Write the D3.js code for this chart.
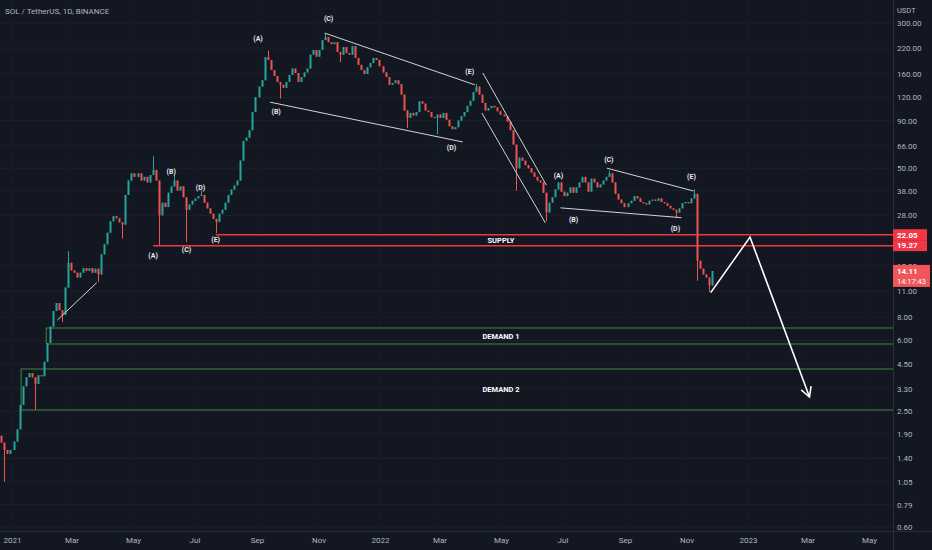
<!DOCTYPE html>
<html>
<head>
<meta charset="utf-8">
<script src="https://cdn.jsdelivr.net/npm/d3@7"></script>
<style>
  body { margin: 0; background: #131722; }
  svg { display: block; font-family: Roboto, 'DejaVu Sans', sans-serif; }
</style>
</head>
<body>
<svg id="chart" width="932" height="550"></svg>
<script>
// SOL / TetherUS, candles every 3 days
const startDate = '2020-12-20';
const periodDays = 3;
const firstOpen = 1.85;

const closes = [
  1.70, 1.55, 1.48, 1.55, 1.72, 2.0, 2.7, 3.4, 3.8, 4.0,
  3.8, 3.5, 3.9, 3.85, 4.6, 5.8, 7.1, 8.6, 9.5, 8.7,
  8.2, 11.5, 15.6, 14.2, 13.8, 13.0, 13.8, 14.6, 14.1, 14.6,
  13.8, 14.5, 13.5, 17.3, 19.6, 22.6, 26, 27.7, 27, 25.7,
  25, 36, 43, 47, 45, 47, 43, 45, 42, 46,
  49, 43, 28, 32.7, 31, 37, 40, 43, 38, 40,
  35, 30, 32, 33.5, 34.5, 35.5, 36, 32.7, 30.5, 28.6,
  26.8, 25.8, 28.6, 30, 32.7, 36, 38.5, 40.5, 43, 55,
  70, 73, 80, 100, 120, 137, 148, 197, 190, 168,
  156, 145, 140, 135, 145, 158, 171, 162, 145, 154,
  163, 171, 203, 215, 198, 215, 243, 252, 237, 231,
  237, 210, 203, 223, 207, 203, 226, 195, 179, 168,
  160, 174, 183, 195, 190, 176, 163, 154, 140, 143,
  148, 141, 124, 102, 93, 99, 96, 100, 114, 111,
  102, 100, 94, 93, 97, 93, 99, 91, 84, 81,
  83, 90, 95, 100, 108, 115, 128, 137, 124, 112,
  102, 105, 108, 106, 101, 97, 95, 89, 80, 67,
  50, 57, 55, 52, 50, 47.5, 45, 43, 42, 37,
  29, 32.7, 35, 38.5, 42, 37.5, 35.5, 37, 39.5, 37,
  39.5, 42, 45, 42, 37.5, 44, 42, 39.5, 41, 43,
  45, 47, 42, 36.5, 34, 32.5, 31, 32.5, 33.5, 35.5,
  34.5, 33, 32.5, 32, 33.5, 34, 33.5, 34.5, 33, 32.5,
  31.5, 30.5, 30, 29, 30.5, 32.5, 33, 32.5, 34.5, 36.5,
  16, 14.5, 13.5, 13, 11.8, 14.1
];

// [candle index, high, low] for the long wicks
const wicks = [
  [1, null, 1.05], [11, null, 2.55], [20, null, 7.5], [22, 18, null],
  [32, null, 12.3], [40, null, 21], [50, 58, null], [52, null, 19.4],
  [57, 46, null], [61, null, 20.2], [66, 38, null], [71, null, 22.5],
  [88, 214, null], [92, null, 118], [107, 262, null], [112, null, 185],
  [134, null, 82], [144, null, 76], [157, 142, null], [170, null, 38],
  [180, null, 26], [201, 48.5, null], [223, null, 27.2], [229, 38.5, null],
  [230, null, 12.5], [234, null, 10.9]
];

const priceTicks = [300, 220, 160, 120, 90, 66, 50, 38, 28, 15, 11, 8, 6, 4.5, 3.3, 2.5, 1.9, 1.4, 1.05, 0.79, 0.60];
const timeTicks = ['2021-01-01', '2021-03-01', '2021-05-01', '2021-07-01', '2021-09-01', '2021-11-01',
  '2022-01-01', '2022-03-01', '2022-05-01', '2022-07-01', '2022-09-01', '2022-11-01',
  '2023-01-01', '2023-03-01', '2023-05-01'];
const timeTickLabels = ['2021', 'Mar', 'May', 'Jul', 'Sep', 'Nov', '2022', 'Mar', 'May', 'Jul', 'Sep', 'Nov', '2023', 'Mar', 'May'];

const supplyLines = [
  { price: 22.05, from: '2021-07-22' },
  { price: 19.27, from: '2021-05-21' }
];
const supplyLabel = ['SUPPLY', '2022-05-01', 20.6];

const demandZones = [
  { name: 'DEMAND 1', top: 6.98, bottom: 5.73, from: '2021-02-04' },
  { name: 'DEMAND 2', top: 4.21, bottom: 2.54, from: '2021-01-10' }
];
const demandLabelDate = '2022-05-01';

const trendLines = [
  [['2021-02-15', 7.7], ['2021-03-26', 12.2]],
  [['2021-11-07', 265], ['2022-04-05', 140]],
  [['2021-09-14', 113], ['2022-03-24', 69.2]],
  [['2022-04-13', 162], ['2022-06-15', 40.6]],
  [['2022-04-12', 98.9], ['2022-06-14', 25.5]],
  [['2022-08-14', 50.1], ['2022-11-08', 37.8]],
  [['2022-06-29', 30.7], ['2022-10-27', 27.2]]
];
const projection = [['2022-11-25', 10.8], ['2023-01-03', 21.4], ['2023-03-03', 2.98]];

const waveLabels = [
  ['(A)', '2021-05-21', 17.0], ['(B)', '2021-06-08', 47.8], ['(C)', '2021-06-23', 18.3],
  ['(D)', '2021-07-07', 39.6], ['(E)', '2021-07-22', 20.7],
  ['(A)', '2021-09-02', 249], ['(B)', '2021-09-20', 101], ['(C)', '2021-11-11', 315],
  ['(D)', '2022-03-13', 64.2], ['(E)', '2022-03-31', 164],
  ['(A)', '2022-06-27', 46.0], ['(B)', '2022-07-12', 26.7], ['(C)', '2022-08-16', 56.0],
  ['(D)', '2022-10-21', 23.9], ['(E)', '2022-11-06', 44.9]
];

const lastPrice = 14.11;
const countdown = '14:17:43';

// ---------- layout ----------
const W = 932, H = 550;
const plotR = 893, plotB = 531;
const upColor = '#26a69a', downColor = '#ef5350';
const axisText = '#b2b5be';

const parse = d3.utcParse('%Y-%m-%d');
const x = d3.scaleUtc().domain([parse('2021-01-01'), parse('2023-01-01')]).range([12, 748]);
const y = d3.scaleLog().domain([0.6, 300]).range([527, 23]);

const svg = d3.select('#chart');
svg.append('rect').attr('width', W).attr('height', H).attr('fill', '#131722');

svg.append('defs').append('clipPath').attr('id', 'plot')
  .append('rect').attr('width', plotR).attr('height', plotB);

// grid
const grid = svg.append('g').attr('clip-path', 'url(#plot)');
grid.selectAll('line.h').data(priceTicks).join('line')
  .attr('x1', 0).attr('x2', plotR)
  .attr('y1', d => y(d)).attr('y2', d => y(d))
  .attr('stroke', '#1c202b');
grid.selectAll('line.v').data(timeTicks).join('line')
  .attr('x1', d => x(parse(d))).attr('x2', d => x(parse(d)))
  .attr('y1', 0).attr('y2', plotB)
  .attr('stroke', '#181c27');

// zones
const zones = svg.append('g').attr('clip-path', 'url(#plot)');
demandZones.forEach(z => {
  const x0 = x(parse(z.from));
  zones.append('rect')
    .attr('x', x0).attr('y', y(z.top))
    .attr('width', plotR + 10 - x0).attr('height', y(z.bottom) - y(z.top))
    .attr('fill', 'none').attr('stroke', '#4caf50').attr('stroke-opacity', 0.75);
  zones.append('text')
    .attr('x', x(parse(demandLabelDate))).attr('y', y(Math.sqrt(z.top * z.bottom)))
    .attr('dy', '0.35em').attr('text-anchor', 'middle')
    .attr('font-size', 7.5).attr('font-weight', 'bold').attr('fill', '#ffffff')
    .text(z.name);
});
supplyLines.forEach(s => {
  zones.append('line')
    .attr('x1', x(parse(s.from))).attr('x2', plotR)
    .attr('y1', y(s.price)).attr('y2', y(s.price))
    .attr('stroke', '#f23645').attr('stroke-width', 1.5);
});
zones.append('text')
  .attr('x', x(parse(supplyLabel[1]))).attr('y', y(supplyLabel[2]))
  .attr('dy', '0.35em').attr('text-anchor', 'middle')
  .attr('font-size', 7.5).attr('font-weight', 'bold').attr('fill', '#ffffff')
  .text(supplyLabel[0]);

// candles
const wickMap = new Map(wicks.map(w => [w[0], w]));
const t0 = parse(startDate);
const candles = closes.map((c, i) => {
  const open = i ? closes[i - 1] : firstOpen;
  const w = wickMap.get(i) || [i, null, null];
  return {
    date: d3.utcHour.offset(d3.utcDay.offset(t0, i * periodDays), periodDays * 12),
    open: open,
    close: c,
    high: Math.max(open, c, w[1] || 0),
    low: Math.min(open, c, w[2] || Infinity)
  };
});

const cg = svg.append('g').attr('clip-path', 'url(#plot)');
cg.selectAll('line.wick').data(candles).join('line')
  .attr('x1', d => Math.round(x(d.date)) + 0.5)
  .attr('x2', d => Math.round(x(d.date)) + 0.5)
  .attr('y1', d => y(d.high)).attr('y2', d => y(d.low))
  .attr('stroke', d => d.close >= d.open ? upColor : downColor);
cg.selectAll('rect.body').data(candles).join('rect')
  .attr('x', d => Math.round(x(d.date)) - 0.5)
  .attr('width', 2)
  .attr('y', d => y(Math.max(d.open, d.close)))
  .attr('height', d => Math.max(1, y(Math.min(d.open, d.close)) - y(Math.max(d.open, d.close))))
  .attr('fill', d => d.close >= d.open ? upColor : downColor);

// drawings
const dg = svg.append('g').attr('clip-path', 'url(#plot)');
const line = d3.line().x(d => x(parse(d[0]))).y(d => y(d[1]));
trendLines.forEach(t => {
  dg.append('path').attr('d', line(t))
    .attr('fill', 'none').attr('stroke', '#d1d4dc').attr('stroke-width', 1);
});
dg.append('path').attr('d', line(projection))
  .attr('fill', 'none').attr('stroke', '#ffffff').attr('stroke-width', 1.6);

// arrow head at the end of the projection
const pa = projection[projection.length - 2], pb = projection[projection.length - 1];
const ax = x(parse(pa[0])), ay = y(pa[1]);
const bx = x(parse(pb[0])), by = y(pb[1]);
const ang = Math.atan2(by - ay, bx - ax);
const headLen = 11, headAng = 0.5;
dg.append('path')
  .attr('d', 'M' + (bx - headLen * Math.cos(ang - headAng)) + ',' + (by - headLen * Math.sin(ang - headAng)) +
    'L' + bx + ',' + by +
    'L' + (bx - headLen * Math.cos(ang + headAng)) + ',' + (by - headLen * Math.sin(ang + headAng)))
  .attr('fill', 'none').attr('stroke', '#ffffff').attr('stroke-width', 1.6);

dg.selectAll('text.wave').data(waveLabels).join('text')
  .attr('x', d => x(parse(d[1]))).attr('y', d => y(d[2]))
  .attr('dy', '0.35em').attr('text-anchor', 'middle')
  .attr('font-size', 7).attr('font-weight', 'bold').attr('fill', '#e8eaf0')
  .text(d => d[0]);

// axes
const yAxis = d3.axisRight(y).tickValues(priceTicks).tickFormat(d3.format('.2f')).tickSize(0).tickPadding(4);
const ya = svg.append('g').attr('transform', 'translate(' + plotR + ',0)').call(yAxis);
ya.select('.domain').remove();
ya.selectAll('text').attr('fill', axisText).attr('font-size', 8).attr('font-family', 'Roboto, sans-serif');

const xAxis = d3.axisBottom(x).tickValues(timeTicks.map(parse))
  .tickFormat((d, i) => timeTickLabels[i]).tickSize(0).tickPadding(6);
const xa = svg.append('g').attr('transform', 'translate(0,' + plotB + ')').call(xAxis);
xa.select('.domain').remove();
xa.selectAll('text').attr('fill', axisText).attr('font-size', 8).attr('font-family', 'Roboto, sans-serif');

svg.append('line').attr('x1', 0).attr('x2', W).attr('y1', plotB + 0.5).attr('y2', plotB + 0.5).attr('stroke', '#2a2e39');
svg.append('line').attr('x1', plotR + 0.5).attr('x2', plotR + 0.5).attr('y1', 0).attr('y2', H).attr('stroke', '#2a2e39');

svg.append('text').attr('x', plotR + 4).attr('y', 13)
  .attr('fill', axisText).attr('font-size', 7.5).text('USDT');

// price tags on the axis
supplyLines.forEach(s => {
  const g = svg.append('g').attr('transform', 'translate(' + plotR + ',' + y(s.price) + ')');
  g.append('rect').attr('x', 0).attr('y', -5.5).attr('width', 34).attr('height', 11).attr('fill', '#f23645');
  g.append('text').attr('x', 4).attr('dy', '0.35em').attr('fill', '#ffffff')
    .attr('font-size', 8).attr('font-weight', 'bold').text(d3.format('.2f')(s.price));
});
const lp = svg.append('g').attr('transform', 'translate(' + plotR + ',' + y(lastPrice) + ')');
lp.append('rect').attr('x', 0).attr('y', -6).attr('width', 37).attr('height', 22).attr('fill', '#f0555a');
lp.append('text').attr('x', 4).attr('dy', '0.35em').attr('fill', '#ffffff')
  .attr('font-size', 8).attr('font-weight', 'bold').text(d3.format('.2f')(lastPrice));
lp.append('text').attr('x', 4).attr('y', 10).attr('dy', '0.35em').attr('fill', '#ffffff')
  .attr('font-size', 7.5).text(countdown);

// title
svg.append('text').attr('x', 5).attr('y', 14)
  .attr('fill', axisText).attr('font-size', 8).text('SOL / TetherUS, 1D, BINANCE');
</script>
</body>
</html>
